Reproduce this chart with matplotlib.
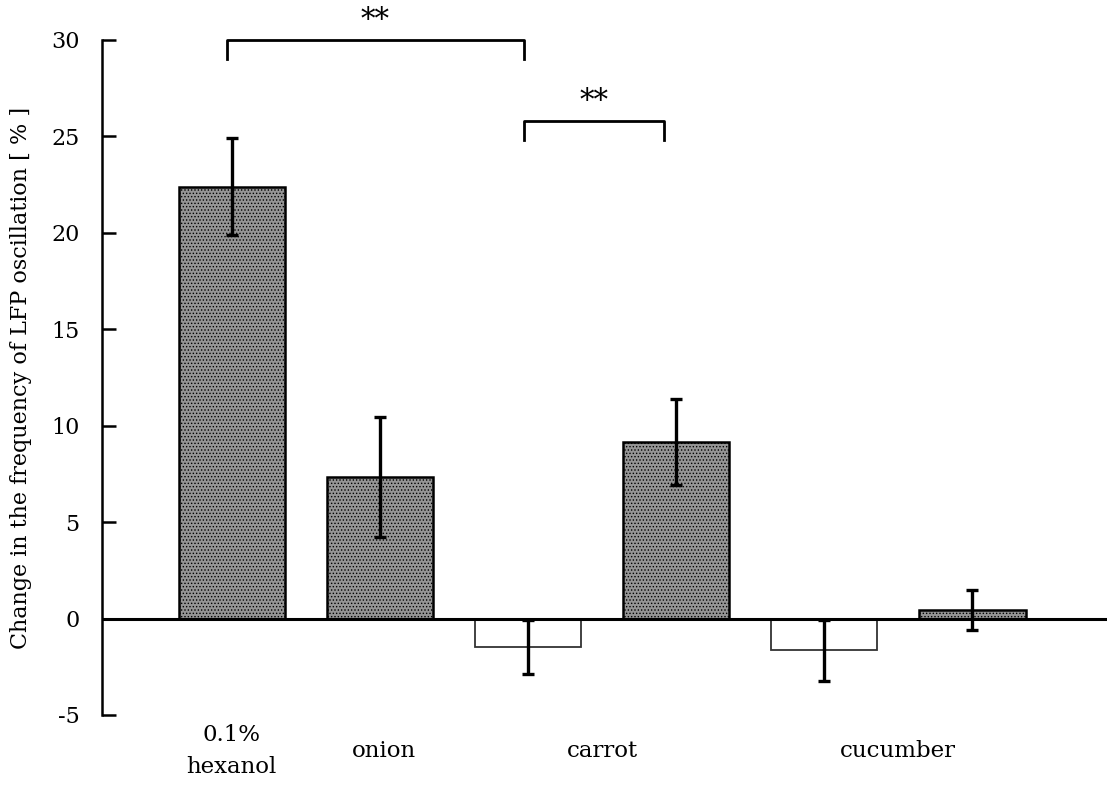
import numpy as np
import matplotlib.pyplot as plt

plt.rcParams['font.family'] = ['DejaVu Serif']
plt.rcParams['axes.unicode_minus'] = False
plt.rcParams['hatch.color'] = '#3a3a3a'
plt.rcParams['hatch.linewidth'] = 0.6

# bar values and error bars
values = [22.4, 7.35, -1.45, 9.15, -1.65, 0.45]
errors = [2.5, 3.1, 1.4, 2.25, 1.6, 1.05]
filled = [True, True, False, True, False, True]

# category labels (x position in bar units)
cat_labels = ['0.1%\nhexanol', 'onion', 'carrot', 'cucumber']
cat_pos = [0.0, 1.03, 2.5, 4.5]

# significance brackets: (start, end, height, leg)
brackets = [(-0.03, 1.97, 30.0, 1.0), (1.97, 2.92, 25.8, 1.0)]
stars = ['**', '**']

x = np.arange(len(values))

fig = plt.figure(figsize=(11.07, 7.87), dpi=100)
ax = fig.add_axes([0.092, 0.0915, 0.908, 0.8577])

for xi, v, e, f in zip(x, values, errors, filled):
    if f:
        ax.bar(xi, v, width=0.72, facecolor='#959595', edgecolor='black',
               linewidth=1.8, hatch='.....', zorder=2)
    else:
        ax.bar(xi, v, width=0.72, facecolor='white', edgecolor='#333333',
               linewidth=1.3, zorder=2)
    ax.errorbar(xi, v, yerr=e, color='black', elinewidth=2.4, capsize=4.5,
                capthick=2.4, zorder=3)

ax.axhline(0, color='black', linewidth=2.2, zorder=4)

for (x0, x1, h, leg), s in zip(brackets, stars):
    ax.plot([x0, x0, x1, x1], [h - leg, h, h, h - leg], color='black',
            linewidth=2, clip_on=False)
    ax.text((x0 + x1) / 2, h + 0.3, s, ha='center', va='bottom', fontsize=21)

ax.set_xlim(-0.878, 5.91)
ax.set_ylim(-5, 30)
ax.set_yticks(np.arange(-5, 31, 5))
ax.tick_params(axis='y', direction='in', length=10, width=1.8, labelsize=16, pad=16)
ax.set_xticks([])
for sp in ['top', 'right', 'bottom']:
    ax.spines[sp].set_visible(False)
ax.spines['left'].set_linewidth(1.8)

for lab, p in zip(cat_labels, cat_pos):
    ax.text(p, -6.85, lab, ha='center', va='center', fontsize=16.5,
            linespacing=1.6)

ax.set_ylabel('Change in the frequency of LFP oscillation [ % ]', fontsize=16,
              labelpad=14)

fig.savefig('out.png', dpi=100)
